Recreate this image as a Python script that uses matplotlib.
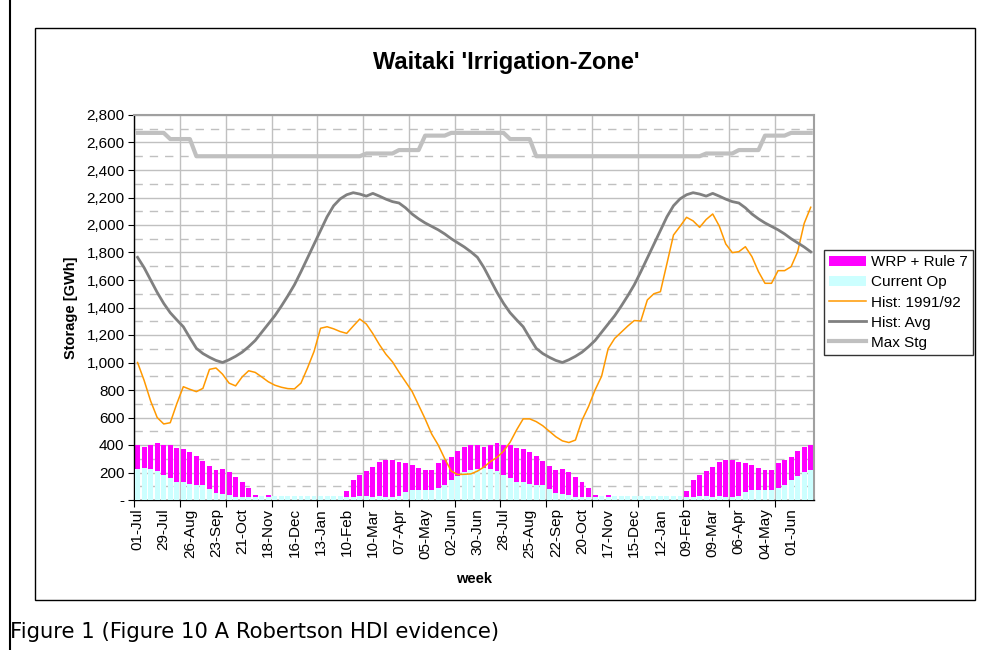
import matplotlib
matplotlib.use("Agg")
import matplotlib.pyplot as plt
from matplotlib.lines import Line2D
from matplotlib.patches import Rectangle, Patch
from matplotlib.ticker import FuncFormatter

plt.rcParams.update({"font.family": ["Liberation Sans", "DejaVu Sans"], "font.size": 10})

# weekly data, 2 years (52 + 52 weeks); the scenario/avg/max series repeat each year
week_labels = ["01-Jul", "29-Jul", "26-Aug", "23-Sep", "21-Oct", "18-Nov", "16-Dec",
               "13-Jan", "10-Feb", "10-Mar", "07-Apr", "05-May", "02-Jun", "30-Jun",
               "28-Jul", "25-Aug", "22-Sep", "20-Oct", "17-Nov", "15-Dec", "12-Jan",
               "09-Feb", "09-Mar", "06-Apr", "04-May", "01-Jun"]

wrp_year = [400, 385, 400, 414, 400, 400, 378, 371, 349, 320, 283, 247, 218, 225, 203, 167,
            131, 87, 36, 0, 36, 0, 0, 0, 0, 0, 0, 0, 0, 0, 0, 0,
            64, 145, 182, 211, 240, 276, 291, 291, 276, 269, 254, 233, 218, 218, 269, 291,
            312, 356, 385, 400]
curop_year = [225, 233, 225, 213, 182, 160, 131, 131, 116, 109, 109, 80, 51, 44, 36, 22,
              22, 22, 22, 28, 22, 28, 28, 28, 28, 28, 28, 28, 28, 28, 28, 28,
              22, 22, 29, 29, 22, 29, 22, 22, 29, 58, 73, 73, 73, 73, 87, 109,
              145, 174, 203, 218]
avg_year = [1765, 1690, 1600, 1510, 1430, 1362, 1310, 1260, 1180, 1103, 1065, 1038, 1015,
            1000, 1020, 1045, 1075, 1115, 1160, 1220, 1280, 1340, 1410, 1485, 1565, 1660,
            1760, 1860, 1960, 2060, 2140, 2190, 2220, 2235, 2225, 2210, 2230, 2210, 2188,
            2170, 2160, 2125, 2080, 2045, 2015, 1990, 1965, 1935, 1900, 1870, 1840, 1805]
maxstg_year = ([2670] * 5 + [2625] * 4 + [2500] * 26 + [2520] * 5 + [2545] * 4
               + [2650] * 4 + [2670] * 4)

hist_9192 = [1000, 870, 720, 600, 553, 562, 700, 824, 805, 788, 812, 950, 960, 915, 850, 830,
             895, 940, 928, 895, 860, 835, 820, 810, 808, 850,
             960, 1080, 1249, 1260, 1245, 1225, 1212, 1265, 1316, 1280, 1210, 1130, 1060, 1005,
             930, 860, 790, 690, 590, 480, 400, 300, 210, 185, 187, 190,
             210, 240, 280, 310, 355, 420, 510, 590, 590, 570, 540, 500, 460, 430, 418, 436,
             580, 680, 800, 900, 1100, 1175, 1220, 1265, 1305, 1302,
             1455, 1500, 1515, 1720, 1927, 1990, 2056, 2030, 1983, 2040, 2080, 1993, 1862, 1799,
             1806, 1842, 1770, 1661, 1576, 1576, 1668, 1668, 1697, 1806, 2012, 2129]

wrp = wrp_year + wrp_year
curop = curop_year + curop_year
hist_avg = avg_year + avg_year
max_stg = maxstg_year + maxstg_year

MAGENTA = "#ff00ff"
CYAN = "#ccffff"
ORANGE = "#ff9900"
DGREY = "#808080"
LGREY = "#c0c0c0"

fig = plt.figure(figsize=(9.96, 6.5), dpi=100)
ax = fig.add_axes([134.3 / 996, 150 / 650, 679.7 / 996, 385 / 650])

x = list(range(len(wrp)))
ax.bar(x, wrp, width=0.75, color=MAGENTA, zorder=2)
ax.bar(x, curop, width=0.75, color=CYAN, zorder=3)
ax.plot(x, hist_9192, color=ORANGE, lw=1.1, zorder=4)
ax.plot(x, hist_avg, color=DGREY, lw=2, zorder=4)
ax.plot(x, max_stg, color=LGREY, lw=3, zorder=4)

ax.set_xlim(-0.5, len(wrp) - 0.5)
ax.set_ylim(0, 2800)

# y axis: major every 200 (solid grid), minor every 100 (dashed grid)
ax.set_yticks(range(0, 2801, 200))
ax.set_yticks(range(100, 2800, 200), minor=True)
ax.yaxis.set_major_formatter(FuncFormatter(lambda v, p: "-" if v == 0 else f"{int(v):,}"))
ax.grid(axis="y", which="major", color=LGREY, lw=1, zorder=0)
ax.grid(axis="y", which="minor", color=LGREY, lw=1, ls=(0, (6, 5)), zorder=0)
ax.tick_params(axis="y", which="minor", length=0)
ax.tick_params(axis="y", which="major", length=4, direction="out", labelsize=11, pad=3)

# x axis: tick marks/grid every 7 weeks, labels every 4 weeks
ax.set_xticks([-0.5 + 7 * k for k in range(15)])
ax.set_xticklabels([])
ax.set_xticks(range(0, 104, 4), minor=True)
ax.set_xticklabels(week_labels, minor=True, rotation=90)
ax.tick_params(axis="x", which="minor", length=0, labelsize=11, pad=6)
ax.tick_params(axis="x", which="major", length=5, direction="out")
ax.grid(axis="x", which="major", color=LGREY, lw=1, zorder=0)

for s in ["left", "bottom"]:
    ax.spines[s].set_color("black")
    ax.spines[s].set_linewidth(1)
for s in ["top", "right"]:
    ax.spines[s].set_color("#a0a0a0")
    ax.spines[s].set_linewidth(1.5)

ax.set_ylabel("Storage [GWh]", fontweight="bold", fontsize=10.5, labelpad=6)
ax.set_xlabel("week", fontweight="bold", fontsize=10.5, labelpad=9)

fig.text(506 / 996, 1 - 62 / 650, "Waitaki 'Irrigation-Zone'", ha="center", va="center",
         fontsize=17, fontweight="bold")

handles = [Patch(facecolor=MAGENTA), Patch(facecolor=CYAN),
           Line2D([], [], color=ORANGE, lw=1.1), Line2D([], [], color=DGREY, lw=2),
           Line2D([], [], color=LGREY, lw=3)]
names = ["WRP + Rule 7", "Current Op", "Hist: 1991/92", "Hist: Avg", "Max Stg"]
leg = fig.legend(handles, names, loc="upper left", bbox_to_anchor=(824 / 996, 1 - 250 / 650),
                 fontsize=11, frameon=True, fancybox=False, edgecolor="black",
                 borderaxespad=0, handlelength=2.4, handletextpad=0.3, labelspacing=0.4,
                 borderpad=0.35)
leg.get_frame().set_linewidth(1)

# chart border and page line
fig.patches.append(Rectangle((35 / 996, 50 / 650), 940 / 996, 572 / 650, transform=fig.transFigure,
                             fill=False, edgecolor="black", lw=1))
fig.lines.append(Line2D([10 / 996, 10 / 996], [0, 1], transform=fig.transFigure, color="black", lw=1.5))

fig.text(10 / 996, 1 - 632 / 650, "Figure 1 (Figure 10 A Robertson HDI evidence)",
         ha="left", va="center", fontsize=15.2, family="DejaVu Sans")

fig.savefig("out.png", dpi=100)
